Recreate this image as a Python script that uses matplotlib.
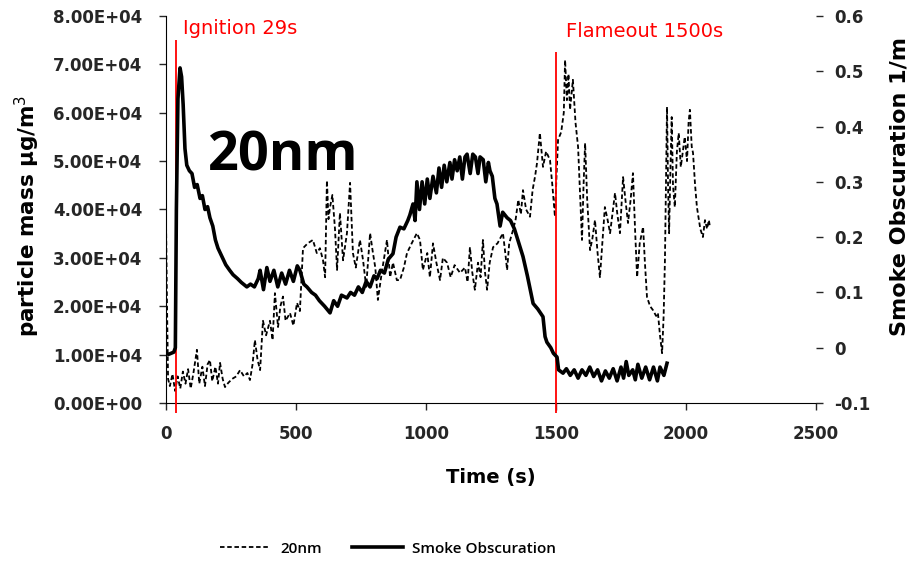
import matplotlib
matplotlib.use("Agg")
import matplotlib.pyplot as plt

plt.rcParams['font.family'] = ['DejaVu Sans']

# 20nm particle mass (left axis)
t_pm = [0, 4, 8, 15, 25, 35, 45, 55, 65, 75, 85, 95, 105, 119, 128, 140, 150, 160, 169, 178,
        190, 200, 208, 218, 227, 240, 255, 270, 285, 300, 313, 323, 333, 342, 352, 362, 373, 385,
        400, 410, 419, 431, 440, 450, 460, 477, 490, 504, 515, 527, 545, 565, 580, 592, 604, 612,
        619, 625, 631, 640, 650, 658, 669, 681, 696, 708, 719, 730, 746, 758, 770, 785, 796, 805,
        815, 830, 850, 862, 873, 888, 900, 915, 927, 945, 965, 977, 988, 1005, 1015, 1027, 1040,
        1054, 1065, 1081, 1095, 1110, 1131, 1150, 1160, 1169, 1178, 1188, 1200, 1210, 1219, 1227,
        1235, 1245, 1258, 1275, 1296, 1305, 1312, 1320, 1335, 1345, 1355, 1365, 1373, 1385, 1400,
        1410, 1420, 1427, 1438, 1450, 1462, 1477, 1486, 1496, 1502, 1508, 1520, 1530, 1535, 1542,
        1548, 1554, 1565, 1575, 1585, 1592, 1600, 1606, 1612, 1620, 1631, 1640, 1650, 1660, 1669,
        1678, 1688, 1698, 1708, 1717, 1727, 1736, 1746, 1752, 1758, 1767, 1777, 1787, 1796, 1804,
        1812, 1822, 1835, 1842, 1850, 1862, 1873, 1885, 1892, 1900, 1908, 1914, 1919, 1923, 1927,
        1931, 1935, 1940, 1945, 1950, 1957, 1965, 1972, 1980, 1988, 1995, 2004, 2010, 2015, 2022,
        2027, 2035, 2042, 2055, 2065, 2073, 2081, 2088, 2092]
pm_20nm = [38000, 20000, 5000, 3500, 6000, 2500, 5500, 3000, 6500, 4000, 7000, 3000, 6000, 11000,
           4000, 7500, 3500, 8000, 8900, 4500, 7500, 4000, 8300, 5000, 3300, 4200, 5000, 5500, 6800,
           5500, 6200, 4750, 8000, 13000, 9000, 6800, 17000, 14000, 17000, 13000, 22700, 15700,
           20000, 22000, 17000, 18600, 16000, 20700, 19000, 32000, 33000, 33700, 31000, 32000,
           29500, 26000, 46000, 38000, 40500, 43000, 36000, 27500, 39300, 29500, 35100, 45500,
           31000, 28000, 33700, 29500, 24000, 35100, 31000, 28000, 21300, 27000, 33700, 26000,
           29000, 25400, 25400, 28000, 31000, 33000, 35100, 33700, 27500, 31000, 26000, 33000,
           29000, 25400, 30000, 29000, 26000, 28500, 26900, 28000, 25000, 32200, 27000, 23400,
           29000, 26000, 33700, 27000, 23400, 29000, 32200, 33000, 35100, 31000, 27500, 33000,
           35800, 38000, 42000, 39000, 44000, 40000, 38500, 44000, 47000, 49600, 55800, 48800,
           52000, 50200, 45000, 38500, 47000, 54400, 56000, 60000, 70900, 62600, 68000, 60600,
           66800, 58000, 52900, 44000, 33700, 45000, 53700, 42000, 31600, 34000, 37800, 31000,
           26000, 33000, 40500, 38000, 35100, 39000, 43400, 39000, 35100, 41000, 46700, 42000,
           37200, 42000, 47500, 36000, 26000, 33000, 36400, 29000, 21900, 20000, 19200, 18000,
           18600, 14000, 10300, 18000, 29500, 45000, 61200, 45000, 35100, 48000, 59100, 45000,
           40500, 52000, 55800, 48800, 52000, 55000, 50000, 58000, 60600, 53000, 51700, 45000,
           40500, 36000, 34300, 37800, 36000, 37800, 36400]

# smoke obscuration (right axis)
t_smoke = [0, 10, 20, 30, 36, 40, 46, 54, 60, 66, 73, 80, 90, 100, 110, 120, 131, 140, 150, 160,
           169, 180, 190, 200, 215, 230, 245, 258, 275, 290, 311, 325, 340, 355, 362, 375, 388,
           400, 415, 430, 445, 460, 475, 490, 505, 515, 530, 542, 560, 575, 590, 610, 631, 645,
           660, 675, 696, 710, 725, 740, 755, 770, 785, 800, 812, 825, 840, 855, 873, 885, 900,
           915, 930, 938, 950, 958, 965, 975, 985, 995, 1005, 1015, 1027, 1040, 1050, 1060, 1070,
           1080, 1092, 1100, 1110, 1120, 1130, 1140, 1150, 1158, 1170, 1180, 1190, 1200, 1208,
           1220, 1230, 1240, 1246, 1255, 1265, 1273, 1285, 1295, 1312, 1325, 1340, 1350, 1360,
           1373, 1390, 1412, 1430, 1450, 1458, 1465, 1480, 1490, 1504, 1510, 1527, 1540, 1555,
           1570, 1585, 1600, 1615, 1630, 1645, 1660, 1675, 1690, 1705, 1720, 1735, 1750, 1760,
           1770, 1780, 1795, 1805, 1815, 1830, 1845, 1860, 1875, 1890, 1900, 1915, 1927]
smoke = [-0.01, -0.012, -0.01, -0.008, 0.0, 0.25, 0.45, 0.506, 0.49, 0.44, 0.36, 0.33, 0.32,
         0.315, 0.29, 0.295, 0.27, 0.275, 0.25, 0.255, 0.235, 0.22, 0.195, 0.18, 0.165, 0.15,
         0.14, 0.132, 0.125, 0.118, 0.11, 0.115, 0.11, 0.125, 0.14, 0.105, 0.145, 0.12, 0.14,
         0.11, 0.135, 0.115, 0.14, 0.12, 0.148, 0.14, 0.115, 0.11, 0.10, 0.095, 0.085, 0.075,
         0.063, 0.085, 0.075, 0.095, 0.09, 0.1, 0.095, 0.11, 0.1, 0.12, 0.11, 0.13, 0.125, 0.14,
         0.135, 0.16, 0.17, 0.2, 0.218, 0.215, 0.23, 0.24, 0.26, 0.23, 0.3, 0.25, 0.3, 0.26,
         0.305, 0.27, 0.31, 0.28, 0.325, 0.29, 0.33, 0.3, 0.335, 0.305, 0.34, 0.32, 0.345, 0.305,
         0.345, 0.35, 0.315, 0.35, 0.345, 0.315, 0.345, 0.34, 0.3, 0.335, 0.32, 0.31, 0.27,
         0.26, 0.22, 0.245, 0.235, 0.23, 0.215, 0.2, 0.185, 0.165, 0.13, 0.08, 0.07, 0.056, 0.02,
         0.01, 0.0, -0.01, -0.017, -0.04, -0.046, -0.038, -0.05, -0.04, -0.055, -0.04, -0.05,
         -0.035, -0.052, -0.04, -0.06, -0.042, -0.055, -0.038, -0.06, -0.035, -0.055, -0.025,
         -0.05, -0.04, -0.058, -0.03, -0.055, -0.035, -0.058, -0.035, -0.06, -0.035, -0.05, -0.028]

ignition = 29
flameout = 1500

fig = plt.figure(figsize=(9.15, 5.61), dpi=100)
ax = fig.add_axes([0.1814, 0.2816, 0.7104, 0.69])
ax2 = ax.twinx()

l1, = ax.plot(t_pm, pm_20nm, color='black', lw=1.3, ls=(0, (2.5, 1.5)), label='20nm')
l2, = ax2.plot(t_smoke, smoke, color='black', lw=2.6, label='Smoke Obscuration')

ax.vlines(ignition + 8, -2000, 75000, color='red', lw=1.3, clip_on=False, zorder=5)
ax.vlines(flameout, -2000, 72500, color='red', lw=1.3, clip_on=False, zorder=5)
ax.text(ignition + 36, 77500, 'Ignition 29s', color='red', fontsize=14, va='center')
ax.text(flameout + 38, 76800, 'Flameout 1500s', color='red', fontsize=14, va='center')
ax.text(160, 51000, '20nm', fontsize=39, fontweight='bold', va='center', family='Open Sans')

ax.set_xlim(0, 2500)
ax.set_ylim(0, 80000)
ax2.set_ylim(-0.1, 0.6)
ax.set_xticks(range(0, 2501, 500))
ax.set_yticks(range(0, 80001, 10000))
ax.set_yticklabels(['%.2fE+04' % (v / 1e4) if v else '0.00E+00' for v in range(0, 80001, 10000)])
ax2.set_yticks([-0.1, 0, 0.1, 0.2, 0.3, 0.4, 0.5, 0.6])
ax2.set_yticklabels(['-0.1', '0', '0.1', '0.2', '0.3', '0.4', '0.5', '0.6'])

for a in (ax, ax2):
    a.spines['top'].set_visible(False)
ax2.spines['right'].set_visible(False)
ax2.spines['left'].set_visible(False)
ax2.spines['bottom'].set_visible(False)
ax.spines['right'].set_visible(False)
ax.tick_params(labelsize=12, length=5, width=1, colors='#262626')
ax.tick_params(axis='x', pad=11)
ax.tick_params(axis='y', pad=12)
ax2.tick_params(labelsize=12, length=5, width=1, pad=8, colors='#262626')
for lab in ax.get_xticklabels() + ax.get_yticklabels() + ax2.get_yticklabels():
    lab.set_fontweight('bold')

ax.set_xlabel('Time (s)', fontsize=14, fontweight='bold')
ax.set_ylabel('particle mass μg/m$^3$', fontsize=15.5, fontweight='bold')
ax2.set_ylabel('Smoke Obscuration 1/m', fontsize=16, fontweight='bold')
ax.xaxis.set_label_coords(0.5, -0.168)
ax.yaxis.set_label_coords(-0.19, 0.483)
ax2.yaxis.set_label_coords(1.113, 0.56)

fig.legend(handles=[l1, l2], loc='center', bbox_to_anchor=(0.424, 0.022), ncol=2, frameon=False,
           handlelength=3.3, columnspacing=2.0, handletextpad=0.65,
           prop={'family': 'Open Sans', 'weight': 'semibold', 'size': 11})

fig.savefig('out.png', dpi=100)
